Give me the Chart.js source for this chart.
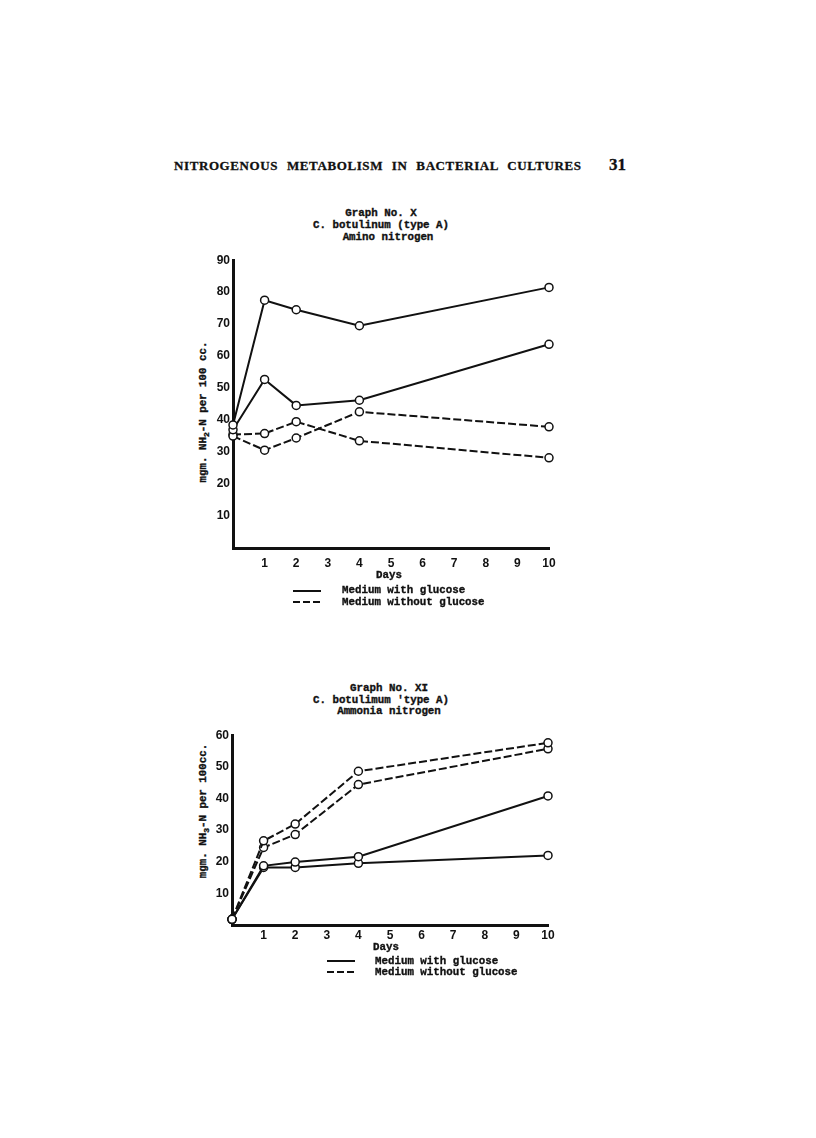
<!DOCTYPE html>
<html>
<head>
<meta charset="utf-8">
<script src="https://cdn.jsdelivr.net/npm/chart.js@4/dist/chart.umd.min.js"></script>
<style>
  html, body { margin: 0; padding: 0; background: #fff; }
  body { width: 816px; height: 1138px; position: relative; overflow: hidden; color: #111; }
  .abs { position: absolute; white-space: pre; }
  .head { font-family: "Liberation Serif", serif; font-weight: bold; font-size: 13px; letter-spacing: 0.6px; word-spacing: 5px; -webkit-text-stroke: 0.3px #111; }
  .pnum { font-family: "Liberation Serif", serif; font-weight: bold; font-size: 17px; -webkit-text-stroke: 0.3px #111; }
  .mono { font-family: "Liberation Mono", "DejaVu Sans Mono", monospace; font-weight: bold; font-size: 10.8px; line-height: 12px; -webkit-text-stroke: 0.35px #111; }
  .ctr { transform: translateX(-50%); text-align: center; }
  .ytitle { transform: translate(-50%, -50%) rotate(-90deg); }
  .ytitle sub { font-size: 8px; }
  .key { position: absolute; height: 0; border-top: 2px solid #111; width: 28px; }
  .key.dash { border-top: none; background: repeating-linear-gradient(90deg, #111 0 7px, transparent 7px 10px); height: 2px; }
  canvas { position: absolute; }
</style>
</head>
<body>
<div class="abs head" style="left:174px; top:158px;">NITROGENOUS METABOLISM IN BACTERIAL CULTURES</div>
<div class="abs pnum" style="left:609px; top:155px;">31</div>

<!-- Graph No. X -->
<div class="abs mono ctr" style="left:381px; top:207px;">Graph No. X</div>
<div class="abs mono ctr" style="left:381px; top:219px;">C. botulinum (type A)</div>
<div class="abs mono ctr" style="left:388px; top:231px;">Amino nitrogen</div>
<div class="abs mono ytitle" style="left:205px; top:412px;">mgm. NH<sub>2</sub>-N per 100 cc.</div>
<canvas id="chartX" width="380" height="320" style="left:190px; top:250px;"></canvas>
<div class="abs mono ctr" style="left:389px; top:569px;">Days</div>
<div class="key" style="left:293px; top:590px;"></div>
<div class="abs mono" style="left:342px; top:584px;">Medium with glucose</div>
<div class="key dash" style="left:293px; top:601px;"></div>
<div class="abs mono" style="left:342px; top:596px;">Medium without glucose</div>

<!-- Graph No. XI -->
<div class="abs mono ctr" style="left:389px; top:682px;">Graph No. XI</div>
<div class="abs mono ctr" style="left:381px; top:694px;">C. botulimum 'type A)</div>
<div class="abs mono ctr" style="left:389px; top:705px;">Ammonia nitrogen</div>
<div class="abs mono ytitle" style="left:205px; top:811px;">mgm. NH<sub>3</sub>-N per 100cc.</div>
<canvas id="chartXI" width="380" height="220" style="left:190px; top:725px;"></canvas>
<div class="abs mono ctr" style="left:386px; top:941px;">Days</div>
<div class="key" style="left:327px; top:960px;"></div>
<div class="abs mono" style="left:375px; top:955px;">Medium with glucose</div>
<div class="key dash" style="left:327px; top:971px;"></div>
<div class="abs mono" style="left:375px; top:966px;">Medium without glucose</div>

<script>
// 采样日（天）
const days = [0, 1, 2, 4, 10];

// Graph No. X 氨基氮 (mgm. NH2-N / 100 cc.)
const aminoWithGlucoseA = [38.5, 77.5, 74.5, 69.5, 81.5];
const aminoWithGlucoseB = [37, 52.7, 44.6, 46.2, 63.7];
const aminoWithoutGlucoseA = [35, 30.6, 34.4, 42.6, 37.9];
const aminoWithoutGlucoseB = [35.5, 35.8, 39.5, 33.5, 28.2];

// Graph No. XI 氨态氮 (mgm. NH3-N / 100 cc.)
const ammoniaWithGlucoseA = [1.8, 18.7, 19.9, 21.6, 40.8];
const ammoniaWithGlucoseB = [1.8, 18.2, 18.2, 19.5, 22];
const ammoniaWithoutGlucoseA = [1.8, 26.6, 31.9, 48.6, 57.6];
const ammoniaWithoutGlucoseB = [1.8, 24.5, 28.6, 44.4, 55.7];

const INK = "#111";
const tickFont = { family: "Liberation Sans", weight: "bold", size: 12 };

function series(values, dashed) {
  return {
    data: values.map((v, i) => ({ x: days[i], y: v })),
    borderColor: INK,
    borderWidth: 2,
    borderDash: dashed ? [8, 3] : [],
    pointRadius: 4,
    pointBorderWidth: 1.5,
    pointBackgroundColor: "#fff",
    pointBorderColor: INK,
    tension: 0,
    clip: false,
  };
}

// 图表配置工厂：两张图共用一套样式
function createChartConfig(datasets, yMax, dims) {
  return {
    type: "line",
    data: { datasets: datasets },
    options: {
      responsive: false,
      animation: false,
      events: [],
      layout: { padding: { top: 10, right: dims.right, bottom: 2, left: 0 } },
      plugins: { legend: { display: false }, tooltip: { enabled: false } },
      scales: {
        x: {
          type: "linear",
          min: 0,
          max: 10,
          grid: { display: false, drawTicks: false },
          border: { display: true, color: INK, width: 3 },
          ticks: {
            stepSize: 1,
            autoSkip: false,
            maxRotation: 0,
            padding: dims.xPad,
            color: INK,
            font: tickFont,
            callback: (v) => (v === 0 ? "" : v),
          },
          afterFit: (scale) => { scale.height = dims.xHeight; },
        },
        y: {
          min: 0,
          max: yMax,
          grid: { display: false, drawTicks: false },
          border: { display: true, color: INK, width: 3 },
          ticks: {
            stepSize: 10,
            padding: 3,
            color: INK,
            font: tickFont,
            callback: (v) => (v === 0 ? "" : v),
          },
          afterFit: (scale) => { scale.width = dims.yWidth; },
        },
      },
    },
  };
}

new Chart(
  document.getElementById("chartX"),
  createChartConfig(
    [
      series(aminoWithGlucoseA, false),
      series(aminoWithGlucoseB, false),
      series(aminoWithoutGlucoseA, true),
      series(aminoWithoutGlucoseB, true),
    ],
    90,
    { right: 21, yWidth: 43, xHeight: 20, xPad: 8 }
  )
);

new Chart(
  document.getElementById("chartXI"),
  createChartConfig(
    [
      series(ammoniaWithGlucoseA, false),
      series(ammoniaWithGlucoseB, false),
      series(ammoniaWithoutGlucoseA, true),
      series(ammoniaWithoutGlucoseB, true),
    ],
    60,
    { right: 22, yWidth: 42, xHeight: 18, xPad: 3 }
  )
);
</script>
</body>
</html>
